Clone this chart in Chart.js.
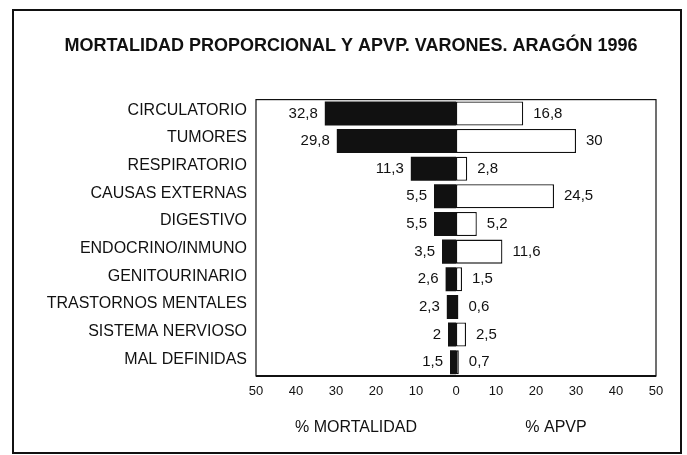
<!DOCTYPE html>
<html>
<head>
<meta charset="utf-8">
<script src="https://cdn.jsdelivr.net/npm/chart.js@4"></script>
<style>
  html, body { margin: 0; padding: 0; background: #fff; }
  #wrap { position: relative; width: 687px; height: 455px; }
  #frame { position: absolute; left: 12px; top: 9px; width: 670px; height: 445px;
           box-sizing: border-box; border: 2px solid #111; pointer-events: none; }
</style>
</head>
<body>
<div id="wrap">
  <canvas id="chart" width="687" height="455"></canvas>
  <div id="frame"></div>
</div>
<script>
const causas = ["CIRCULATORIO", "TUMORES", "RESPIRATORIO", "CAUSAS EXTERNAS", "DIGESTIVO",
  "ENDOCRINO/INMUNO", "GENITOURINARIO", "TRASTORNOS MENTALES", "SISTEMA NERVIOSO", "MAL DEFINIDAS"];
const mortalidad = [32.8, 29.8, 11.3, 5.5, 5.5, 3.5, 2.6, 2.3, 2, 1.5];
const apvp = [16.8, 30, 2.8, 24.5, 5.2, 11.6, 1.5, 0.6, 2.5, 0.7];
const axisTitles = ["% MORTALIDAD", "% APVP"];

const FONT = "'Liberation Sans', Arial, sans-serif";
const INK = "#111";

function fmt(v) {
  return String(Math.abs(v)).replace(".", ",");
}

// box round the plot, value labels and the two captions under the axis
const extras = {
  id: "extras",
  beforeDatasetsDraw(chart) {
    const { ctx, chartArea: a } = chart;
    ctx.save();
    ctx.strokeStyle = INK;
    ctx.lineWidth = 1.2;
    ctx.strokeRect(a.left, a.top, a.right - a.left, a.bottom - a.top);
    ctx.lineWidth = 2;
    ctx.beginPath();
    ctx.moveTo(a.left, a.bottom);
    ctx.lineTo(a.right, a.bottom);
    ctx.stroke();
    ctx.restore();
  },
  afterDatasetsDraw(chart) {
    const { ctx } = chart;
    ctx.save();
    ctx.fillStyle = INK;
    ctx.font = "15px " + FONT;
    ctx.textBaseline = "middle";
    chart.data.datasets.forEach((ds, i) => {
      chart.getDatasetMeta(i).data.forEach((bar, j) => {
        const v = ds.data[j];
        if (v < 0) {
          ctx.textAlign = "right";
          ctx.fillText(fmt(v), bar.x - 7, bar.y);
        } else {
          ctx.textAlign = "left";
          ctx.fillText(fmt(v), bar.x + 10, bar.y);
        }
      });
    });
    const x = chart.scales.x;
    ctx.font = "16px " + FONT;
    ctx.textAlign = "center";
    ctx.fillText(axisTitles[0], x.getPixelForValue(-25), 428);
    ctx.fillText(axisTitles[1], x.getPixelForValue(25), 428);
    ctx.restore();
  }
};

new Chart(document.getElementById("chart"), {
  type: "bar",
  data: {
    labels: causas,
    datasets: [{
      label: "% MORTALIDAD",
      data: mortalidad.map(v => -v),
      backgroundColor: INK,
      borderColor: INK,
      borderWidth: 0,
      barPercentage: 0.87,
      categoryPercentage: 1
    }, {
      label: "% APVP",
      data: apvp,
      backgroundColor: "#fff",
      borderColor: INK,
      borderWidth: 1.3,
      borderSkipped: false,
      barPercentage: 0.87,
      categoryPercentage: 1
    }]
  },
  options: {
    indexAxis: "y",
    responsive: false,
    animation: false,
    layout: { padding: { top: 0, right: 31, bottom: 0, left: 46 } },
    plugins: {
      legend: { display: false },
      tooltip: { enabled: false },
      title: {
        display: true,
        text: "MORTALIDAD PROPORCIONAL Y APVP. VARONES. ARAGÓN 1996",
        color: INK,
        font: { family: FONT, size: 18, weight: "bold" },
        padding: { top: 35, bottom: 43 }
      }
    },
    scales: {
      x: {
        stacked: true,
        min: -50,
        max: 50,
        grid: { display: false, drawTicks: false },
        border: { display: false },
        ticks: {
          stepSize: 10,
          padding: 8,
          color: INK,
          font: { family: FONT, size: 13 },
          callback: v => Math.abs(v)
        },
        afterFit: s => { s.height = 79; }
      },
      y: {
        stacked: true,
        grid: { display: false, drawTicks: false },
        border: { display: false },
        ticks: {
          padding: 9,
          labelOffset: -3,
          color: INK,
          font: { family: FONT, size: 16 }
        },
        afterFit: s => { s.width = 210; }
      }
    }
  },
  plugins: [extras]
});
</script>
</body>
</html>
